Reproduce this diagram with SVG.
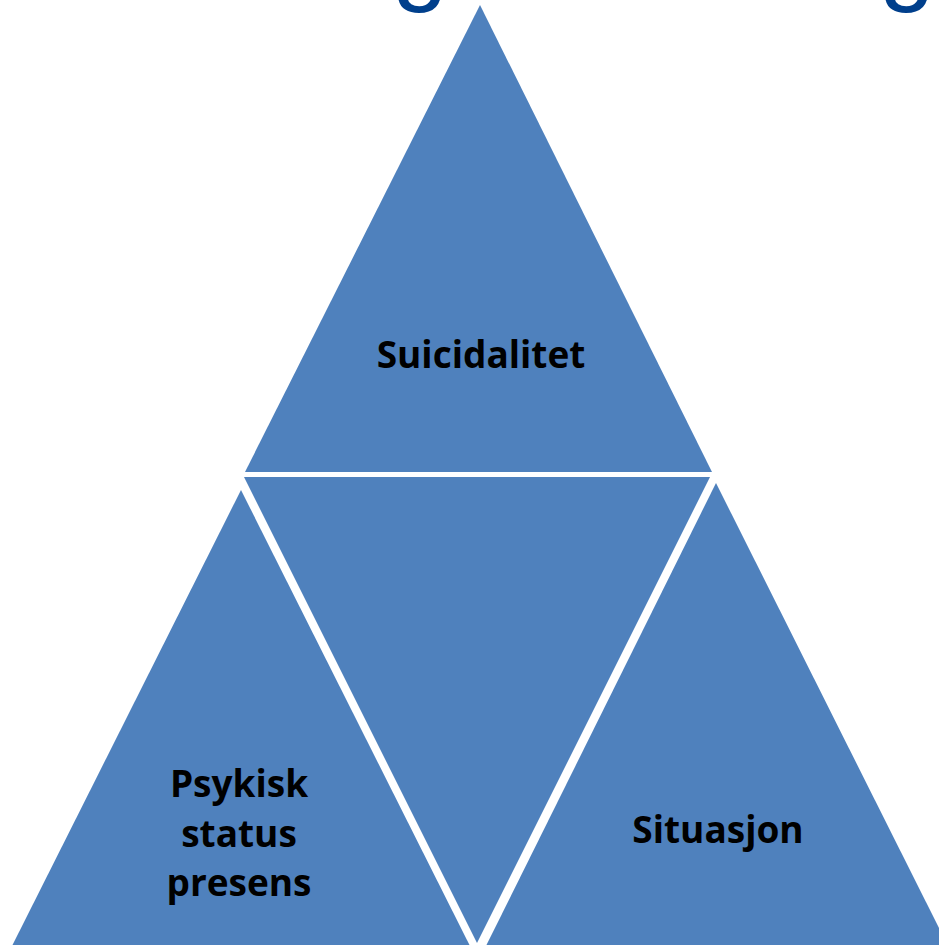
<svg xmlns="http://www.w3.org/2000/svg" width="939" height="945" viewBox="0 0 939 945">
<style>
.tri{fill:#4F81BD;}
.lbl{font-family:"Open Sans","Liberation Sans",sans-serif;font-weight:bold;font-size:37px;fill:#000;text-anchor:middle;}
.ttl{font-family:"Liberation Sans",sans-serif;font-size:100px;fill:#003F8C;text-anchor:middle;}
</style>
<rect width="939" height="945" fill="#fff"/>
<g id="title">
<text class="ttl" x="420" y="-8">g</text>
<text class="ttl" x="907" y="-8">g</text>
</g>
<g id="top">
<polygon class="tri" points="480,5 712,472 245,472"/>
<text class="lbl" x="481" y="368">Suicidalitet</text>
</g>
<g id="middle">
<polygon class="tri" points="244,477 710,477 477,943"/>
</g>
<g id="left">
<polygon class="tri" points="241,490 472,950 10,950"/>
<text class="lbl" x="239" y="797">Psykisk</text>
<text class="lbl" x="239" y="847">status</text>
<text class="lbl" x="239" y="896">presens</text>
</g>
<g id="right">
<polygon class="tri" points="716,483 950,950 484,950"/>
<text class="lbl" x="718" y="843">Situasjon</text>
</g>
<g id="connectors"></g>
</svg>
